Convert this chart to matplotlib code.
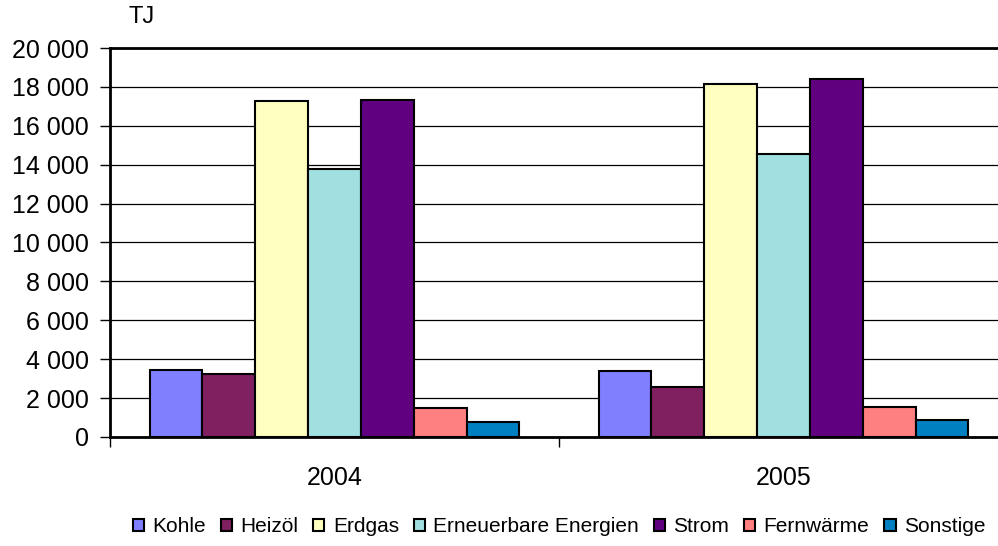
import matplotlib
matplotlib.use("Agg")
import matplotlib.pyplot as plt
from matplotlib.ticker import FuncFormatter, FixedLocator
import numpy as np

plt.rcParams['font.family'] = ['Liberation Sans', 'DejaVu Sans']

years = ["2004", "2005"]
series = ["Kohle", "Heizöl", "Erdgas", "Erneuerbare Energien", "Strom", "Fernwärme", "Sonstige"]
kohle = [3450, 3410]
heizoel = [3220, 2560]
erdgas = [17280, 18150]
erneuerbare = [13790, 14570]
strom = [17310, 18400]
fernwaerme = [1510, 1530]
sonstige = [760, 860]
values = [kohle, heizoel, erdgas, erneuerbare, strom, fernwaerme, sonstige]
colors = ["#8080FF", "#802060", "#FFFFC0", "#A0E0E0", "#600080", "#FF8080", "#0080C0"]

fig = plt.figure(figsize=(9.98, 5.46), dpi=100)
ax = fig.add_axes([110/998, 1-437/546, (1008-110)/998, (437-48)/546])

n = len(series)
w = 1/8.5
x = np.arange(len(years))
for i, (name, vals, c) in enumerate(zip(series, values, colors)):
    ax.bar(x + (i - (n-1)/2)*w, vals, width=w, color=c, edgecolor="black",
           linewidth=1.5, label=name, zorder=3)

ax.set_xlim(-0.5, 1.5)
ax.set_ylim(0, 20000)
ax.set_yticks(np.arange(0, 20001, 2000))
ax.yaxis.set_major_formatter(FuncFormatter(lambda v, p: f"{int(v):,}".replace(",", " ")))
ax.grid(axis="y", color="black", linewidth=0.9, zorder=0)
ax.set_axisbelow(True)

ax.set_xticks(x)
ax.set_xticklabels(years)
ax.tick_params(axis="x", length=0, pad=21, labelsize=18)
ax.xaxis.set_minor_locator(FixedLocator([-0.5, 0.5, 1.5]))
ax.tick_params(axis="x", which="minor", length=7, width=1, direction="out", color="black")
ax.tick_params(axis="y", length=7, width=1, labelsize=18, pad=8, color="black")

ax.spines["right"].set_visible(False)
ax.spines["top"].set_linewidth(2)
ax.spines["left"].set_linewidth(2)
ax.spines["bottom"].set_linewidth(2)

fig.text(142/998, 1-17/546, "TJ", fontsize=17, ha="center", va="center")

fig.legend(loc="center", bbox_to_anchor=(559/998, 1-527/546), ncol=7, frameon=False,
           fontsize=15, handlelength=0.55, handleheight=0.55, handletextpad=0.4,
           columnspacing=0.7, borderaxespad=0)

fig.savefig("out.png", dpi=100)
